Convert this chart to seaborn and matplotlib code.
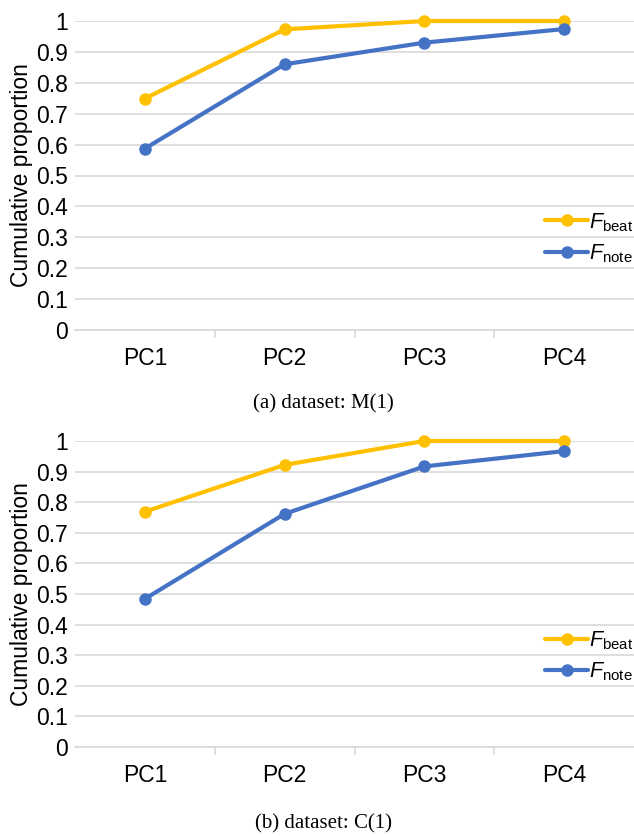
import pandas as pd
import matplotlib
matplotlib.use('Agg')
import matplotlib.pyplot as plt
import seaborn as sns

# values
components = ['PC1', 'PC2', 'PC3', 'PC4']
beat_m = [0.749, 0.973, 1.0, 1.0]
note_m = [0.587, 0.860, 0.930, 0.974]
beat_c = [0.769, 0.922, 1.0, 1.0]
note_c = [0.484, 0.762, 0.917, 0.967]
captions = ['(a) dataset: M(1)', '(b) dataset: C(1)']
series_names = [r'$F_{\mathrm{beat}}$', r'$F_{\mathrm{note}}$']
yticks = [0, 0.1, 0.2, 0.3, 0.4, 0.5, 0.6, 0.7, 0.8, 0.9, 1]

sns.set_style('white')
plt.rcParams['font.family'] = ['Liberation Sans', 'DejaVu Sans']
plt.rcParams['mathtext.fontset'] = 'custom'
plt.rcParams['mathtext.it'] = 'Liberation Sans:italic'
plt.rcParams['mathtext.rm'] = 'Liberation Sans'
plt.rcParams['text.color'] = 'black'
plt.rcParams['xtick.color'] = 'black'
plt.rcParams['ytick.color'] = 'black'
plt.rcParams['axes.labelcolor'] = 'black'

palette = {series_names[0]: '#FFC000', series_names[1]: '#4472C4'}

fig = plt.figure(figsize=(6.34, 8.36), dpi=100)
panels = [
    (fig.add_axes([75 / 634, 1 - 330 / 836, 559 / 634, 309 / 836]), beat_m, note_m, 1 - 404 / 836),
    (fig.add_axes([75 / 634, 1 - 747 / 836, 559 / 634, 306 / 836]), beat_c, note_c, 1 - 824 / 836),
]

for i, (ax, beat, note, cap_y) in enumerate(panels):
    df = pd.DataFrame({
        'pc': components * 2,
        'value': beat + note,
        'series': [series_names[0]] * 4 + [series_names[1]] * 4,
    })
    sns.lineplot(data=df, x='pc', y='value', hue='series', palette=palette,
                 marker='o', markersize=9, markeredgewidth=0, linewidth=3,
                 ax=ax, clip_on=False, zorder=3)
    ax.set_xlim(-0.5, 3.5)
    ax.set_ylim(0, 1)
    ax.set_yticks(yticks)
    ax.set_yticklabels([f'{t:g}' for t in yticks])
    ax.grid(axis='y', color='#D9D9D9', linewidth=1.2)
    ax.set_axisbelow(True)
    for s in ['top', 'right', 'left']:
        ax.spines[s].set_visible(False)
    ax.spines['bottom'].set_color('#D9D9D9')
    ax.spines['bottom'].set_linewidth(1.2)
    ax.set_xticks(range(4))
    ax.set_xticklabels(components)
    ax.set_xticks([0.5, 1.5, 2.5], minor=True)
    ax.tick_params(axis='x', which='major', length=0, pad=12, labelsize=16.5)
    ax.tick_params(axis='x', which='minor', length=6, color='#D9D9D9', width=1.2, direction='out', bottom=True)
    ax.tick_params(axis='y', length=0, pad=5, labelsize=16.5)
    ax.set_xlabel('')
    ax.set_ylabel('Cumulative proportion', fontsize=16.5, labelpad=2)
    ax.legend(loc='upper left', bbox_to_anchor=(0.822, 0.42), frameon=False,
              fontsize=15.5, handlelength=2.0, handletextpad=0.05, borderpad=0,
              labelspacing=0.4, title=None)
    fig.text(0.51, cap_y, captions[i], ha='center', va='center',
             family='Liberation Serif', fontsize=15)

plt.savefig('out.png', dpi=100)
